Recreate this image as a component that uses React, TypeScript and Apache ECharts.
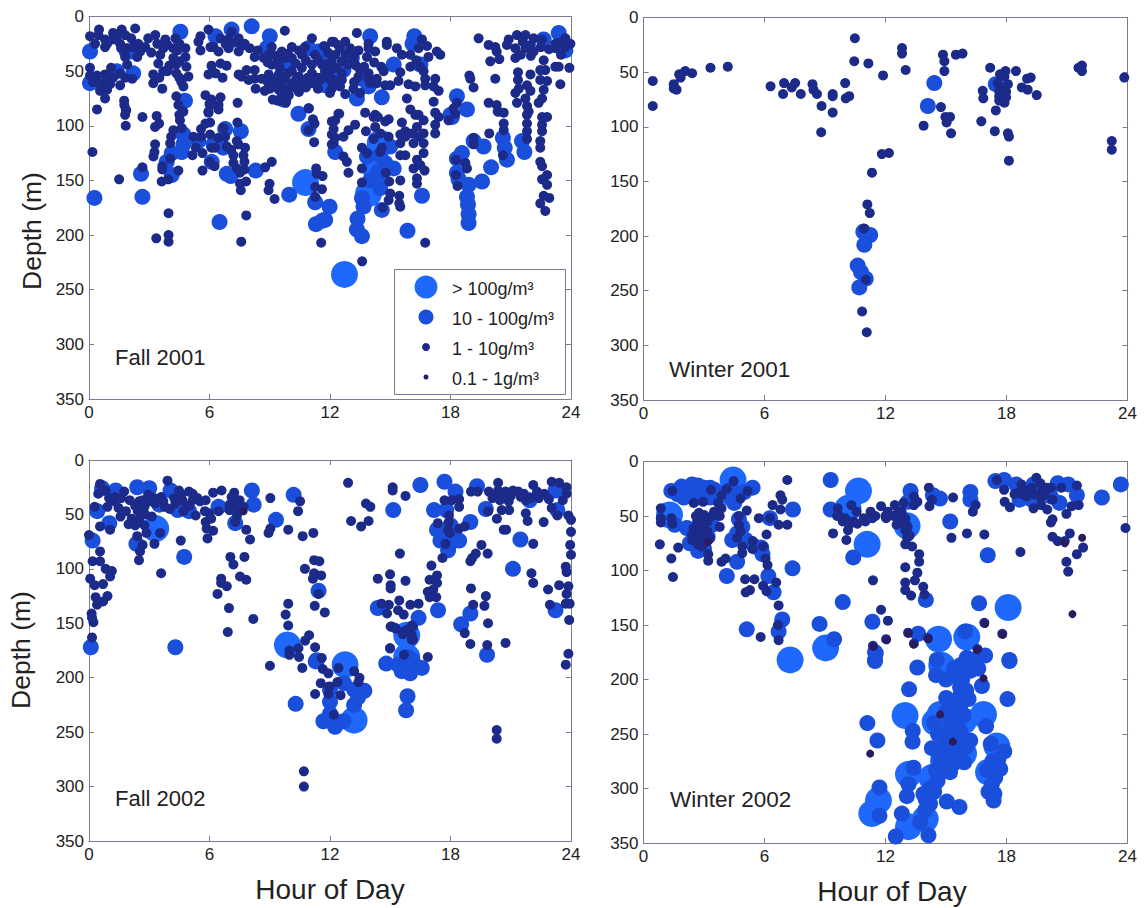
import React, { useEffect, useRef } from "react";
import * as echarts from "echarts";

type P = number[][];

const hourTicks = ["0", "6", "12", "18", "24"];
const panelNames = ["Fall 2001", "Winter 2001", "Fall 2002", "Winter 2002"];
const legendLabels = ["> 100g/m³", "10 - 100g/m³", "1 - 10g/m³", "0.1 - 1g/m³"];

const fall2001Large: P = [[10.78,152],[12.72,236],[13.92,162],[14.33,143],[14.5,116],[14.2,128]];
const fall2001Medium: P = [
[.05,32],[.05,61],[2.2,52],[1.38,50],[1.88,32],[4.78,77],[2.1,32],[9.93,43],[9,18],[7.1,12],[8.1,9],[6.3,18],[4.55,14],[8.85,29],[10.43,64],[9.68,76],[10.43,89],[11.43,32],[11.93,52],[10.93,29],[11.76,63],
[14,18],[16.2,18],[16.11,25],[15.17,44],[16.5,44],[23.39,15],[23.72,31],[22.64,21],[13.34,75],[14.58,74],[13.59,57],[13.92,64],[12.67,49],[13.09,38],[12.09,58],[11.76,38],[18.32,73],[18.82,85],[18,90],
[10.93,103],[7.56,105],[6.78,103],[4.7,108],[4.7,117],[4.62,124],[4.12,125],[3.87,133],[4.12,145],[2.59,144],[.27,166],[2.66,165],[6.11,133],[6.2,117],[6.69,120],[5.45,114],[6.86,144],[7.06,146],[8.3,141],[9.97,163],[11.26,170],[11.98,174],
[12.26,124],[11.76,186],[14.99,119],[13.84,128],[14.5,127],[14.75,134],[15.17,139],[14.42,142],[13.59,166],[13.67,174],[13.37,185],[13.34,195],[13.59,201],[14.5,157],[14.58,177],[16.58,164],[15.86,196],[18.07,92],
[18.32,130],[18.57,125],[19.15,114],[19.65,119],[18.32,143],[18.4,149],[18.9,154],[19.57,151],[20.02,138],[18.82,165],[18.87,172],[18.9,181],[18.9,189],[20.61,111],[20.7,120],[20.81,131],[21.56,114],[21.68,124],[6.5,188],[11.3,190],[11.6,187],[14,150],[14.3,150]];
const fall2001Small: P = [
[.5,12],[.05,18],[.47,17],[.3,25],[.8,21],[.8,28],[1.2,15],[1.63,12],[2.3,11],[1.2,21],[1.8,17],[2.1,20],[1.55,25],[1.9,29],[2.45,25],[2.55,32],[1.8,37],[2.4,37],[1.9,44],[3.3,17],[2.95,20],[3.8,21],[4.3,20],[3.4,25],[3.7,29],[4.4,31],[4.8,29],[3.55,35],[4.2,38],[4.8,37],[3.45,43],[4.35,44],[4.85,46],[3.2,53],[3.7,50],[4.35,52],[4.95,55],[4.6,60],[4.7,64],[3.2,61],[3.65,66],
[.05,47],[.05,54],[.4,54],[.8,53],[1.1,47],[1.55,52],[1.8,56],[2.15,57],[.2,60],[.65,61],[1.05,62],[1.55,63],[.55,68],[.9,67],[.8,75],[.4,85],[1.75,77],[1.85,86],[4.35,73],[4.45,81],[4.7,87],
[5.95,12],[5.55,18],[5.45,23],[5.55,31],[6.05,28],[6.55,20],[7.1,14],[6.95,21],[6.45,32],[6.95,29],[7.45,20],[7.75,25],[7.45,32],[8,29],[8.25,37],[8.7,38],[8.95,35],[6.1,45],[6.55,43],[6.85,45],[5.95,53],[6.3,52],[6.65,56],[5.8,72],[6.55,74],[6.1,76],[6.05,81],[6.45,81],[6.45,85],[5.95,87],[7.4,79],[7.45,53],[7.6,55],[7.85,49],[8.25,49],[7.95,58],[8.25,57],[8.6,57],[8.3,66],[8.75,68],[9.75,13],[9.15,76],
[9.1,28],[9.6,32],[10.1,28],[10.45,31],[9.75,38],[9.1,44],[9.5,47],[10.1,38],[10.6,35],[11.1,20],[10.75,28],[11.7,27],[11.25,35],[12.1,23],[11.1,44],[11.6,44],[10.6,47],[10.1,50],[9.45,53],[8.95,53],[9.75,57],[10.45,55],[11.1,52],[11.75,50],[9.25,63],[9.6,64],[10.1,61],[10.6,60],[11.1,61],[9.6,72],[9.75,67],[10.45,69],[10.95,84],[11.5,58],[12.1,60],[9.6,60],[9.95,72],[9.45,67],
[13.34,15],[12.18,23],[12.76,23],[12.5,29],[13,29],[13.42,31],[13.92,25],[13.92,29],[14.25,32],[13.84,37],[14.83,23],[14.83,26],[11.76,28],[12.26,35],[12.76,35],[12.09,41],[12.59,41],[11.76,44],[13.17,41],[13.5,49],[13.92,52],[14.55,46],[14.67,50],[12,50],[12.59,52],[13.42,55],[13.92,57],[14.33,57],[12.18,58],[12.59,58],[13.17,66],[14.75,63],[15,63],[12.09,66],[12.76,71],[14,61],[14.33,61],
[15.33,29],[15.58,35],[16,35],[16.58,21],[16.83,27],[16.41,29],[16,46],[17.32,32],[17.49,35],[15.5,51],[15.41,59],[16.5,46],[16.66,50],[16.74,57],[15.91,62],[16.25,64],[16.74,63],[17.24,57],[17.16,64],[17.41,68],[15.83,75],[17.16,78],
[19.4,20],[19.9,26],[20.23,28],[20.3,32],[19.98,41],[20.43,39],[18.94,54],[18.99,57],[20.23,57],[19.15,65],[20.81,26],[20.9,21],[21.31,17],[21.73,17],[22.14,20],[21.23,29],[21.73,29],[22.14,32],[22.56,21],[21.23,38],[22.64,40],[22.47,49],[22.72,49],[21.98,53],[21.36,51],[22.47,58],[22.81,59],[21.36,58],[21.81,63],[21.4,66],[21.98,68],[21.23,70],[21.73,75],[22.64,67],[22.56,75],[22.39,79],[21.31,79],[19.9,79],[20.3,81],[23.39,46],[23.22,46],[23.92,47],[23.47,62],[23.22,25],[23.22,29],[23.72,20],[23.97,25],[23.72,28],[21.81,82],[21.89,87],[20.4,87],[12.42,89],[13.75,88],[14.25,90],[16,85],[16.41,90],[17.24,88],[18.32,79],[18.16,84],
[1.76,81],[1.83,85],[1.8,90],[1.83,100],[2.66,92],[3.37,91],[3.49,98],[3.29,101],[4.5,90],[4.53,95],[4.2,104],[4.62,102],[4.09,110],[4.04,116],[5.2,110],[5.58,103],[5.58,110],[6.03,97],[5.8,98],[5.95,88],[6,80],[7.39,97],[6.03,108],[6.69,102],[6.44,111],[6.78,110],[6.1,120],[6.28,120],[5.32,120],[5.15,127],[5.65,125],[3.29,117],[3.26,124],[3.21,128],[.17,124],[2.66,138],[1.5,149],[4.04,130],[3.65,137],[3.65,140],[4.45,141],[3.95,149],[3.62,151],[6.03,133],[6.25,137],[5.65,141],[6.86,119],[7.08,122],[7.36,114],[7.44,117],[7.77,120],[7.19,127],[7.69,127],[7.19,134],[7.74,133],[7.36,139],[7.74,140],[7.52,143],[8.77,138],[9.1,133],[7.82,151],[7.52,153],[7.56,159],[8.99,153],[8.94,159],[9.24,167],
[10.93,84],[11.15,94],[11.23,98],[10.93,104],[11.21,115],[11.31,139],[11.34,144],[11.63,146],[11.26,156],[11.6,158],[11.26,165],[12.09,96],[12.09,108],[12.09,117],[3.35,203],[3.96,200],[3.96,206],[7.58,206],[11.56,207],[13.6,224],[16.74,207],[3.96,180],[7.83,182],
[12.46,89],[12.26,95],[12.18,103],[13.25,99],[12.92,104],[12.67,110],[12.18,116],[12.26,111],[14.17,92],[14.38,92],[13.79,105],[14.25,101],[14.5,107],[14.17,112],[14.92,94],[14.75,96],[15.58,97],[14.92,110],[14.58,120],[14.5,124],[13.59,120],[13.84,125],[12.67,128],[12.84,133],[12.92,143],[13.59,139],[13.59,152],[14.78,143],[14.95,151],[15,162],[14.92,168],[15.5,150],[15.45,164],[15.45,171],[15.5,174],[14.62,175],
[16.25,90],[16.66,95],[16.33,101],[15.75,105],[15.5,108],[16.08,107],[16.66,107],[16.41,110],[15.5,116],[16.16,116],[16.66,116],[15.75,110],[16.66,125],[15.5,127],[15.75,127],[16.33,131],[16.5,136],[16.71,141],[16.16,139],[16.33,148],[16.33,153],[17.41,92],[17.24,99],[17.24,107],
[17.9,95],[18.24,89],[18.27,131],[18.27,145],[18.35,155],[18.74,134],[18.82,139],[19.15,111],[19.15,117],[19.93,107],[20.35,87],[20.65,88],[20.65,98],[20.65,104],[20.61,127],
[21.81,90],[21.81,98],[21.81,105],[21.81,112],[22.56,92],[22.81,92],[22.56,99],[22.56,105],[22.47,114],[22.47,120],[22.47,133],[22.56,137],[22.81,145],[22.56,149],[22.81,154],[22.64,164],[22.92,166],[22.47,171],[22.72,178]];
const fall2001SmallDense: P = [
[6.2,28],[6.8,25],[7.2,24],[7.6,27],[8.4,31],[8.9,42],[9.3,36],[9.4,41],[9.9,34],[10.3,43],[10.8,40],[11.4,39],[11.9,33],[12.4,26],[13.2,35],[12.9,44],[12.3,47],[11.9,56],[11.4,56],[10.9,56],[10.3,58],[9.9,52],[9.3,57],[8.9,60],[9,66],[9.9,66],[10.3,65],[10.8,65],[11.4,66],[9.4,77],[9.8,79],[13.3,45],[13.7,46],[14.2,42],[13.2,60],[12.5,64],[12,70],[13.5,70],[16.3,40],[16.9,37],
[.9,25],[1.4,18],[1.6,29],[2.2,28],[2.8,28],[3.1,33],[3.9,26],[4.2,29],[4.5,25],[4.5,41],[4,45],[3.9,50],[4.5,56],[3.5,56],[1.2,56],[.4,60],[.9,58],[21.6,23],[22,26],[21.5,35],[22,36],[23.5,35],[23.4,24],[22.9,30],[22.5,28]];

const winter2001Medium: P = [[14.42,60],[14.1,81],[17.47,61],[10.9,196],[11.24,199],[10.95,208],[10.62,227],[10.79,233],[11.02,239],[10.7,247]];
const winter2001Small: P = [
[.46,58],[.46,81],[1.5,61],[1.5,65],[1.64,66],[1.77,52],[1.84,55],[2.07,49],[2.41,51],[3.32,46],[4.18,45],[6.3,63],[6.97,60],[6.92,70],[7.52,60],[7.35,64],[7.8,70],[8.38,61],[8.43,66],[8.6,70],[8.81,105],[8.83,81],[9.38,70],[9.38,72],[9.38,87],[10,60],[10.2,72],[10.03,74],[10.48,19],[10.45,40],[11.15,42],[11.88,53],[12.82,28],[12.82,33],[13,48],
[11.82,125],[12.17,124],[11.33,142],[11.1,171],[11.22,179],[10.93,193],[11.02,240],[10.84,269],[11.07,288],
[14.85,34],[14.92,40],[14.92,49],[14.75,82],[15.49,34],[15.82,33],[13.89,99],[14.97,91],[15.2,91],[15.03,96],[15.25,106],
[17.19,46],[16.82,67],[16.85,74],[16.75,95],[17.47,85],[17.42,104],[18.07,106],[18.12,109],[18.12,131],[17.95,49],[18.47,49],[17.68,52],[17.9,54],[17.56,60],[18.07,61],[17.81,64],[17.64,68],[17.98,68],[17.64,72],[17.98,73],[17.64,76],[17.9,78],
[18.76,64],[19.05,66],[19.02,56],[19.2,55],[19.5,71],[21.57,46],[21.74,44],[21.74,49],[23.22,113],[23.22,121],[23.84,55]];

const fall2002Large: P = [[3.32,63],[9.88,170],[12.75,188],[13.2,239],[15.82,161],[15.82,181]];
const fall2002Medium: P = [
[.18,74],[.41,47],[1.01,58],[.09,172],[4.3,172],[4.74,89],[2.36,77],[1.33,28],[.65,26],[2.4,25],[3,26],[4.06,28],[3.5,41],[4.42,46],[4.98,47],[6.45,43],[8.11,28],[8.2,41],[7.28,58],[9.31,55],[10.19,32],[15.15,46],[16.5,23],[11.43,120],[14.8,187],[14.38,136],[16.41,145],[17.38,138],[18.99,141],[18.53,151],[19.82,179],[23.23,138],[21.11,100],[21.48,73],[19.76,45],[19.32,24],[17.7,20],[18.25,29],[17.18,46],[17.79,46],[17.33,64],[17.88,83],[17.79,72],[18.43,74],[18.99,57],[21.94,37],[23.23,28],[23.32,46],[11.34,184],
[11.29,185],[12,211],[13.2,211],[13.71,212],[13.2,225],[10.29,224],[12,233],[12.67,240],[12.25,245],[11.67,240],[15.86,181],[15.57,194],[15.99,196],[16.57,191],[15.86,217],[15.79,230],[16.16,187],
[18,60],[18,67],[17.5,74],[18,76],[12,222],[12.7,205],[13.4,218],[16.1,184],[15.4,188]];
const fall2002Small: P = [
[.55,22],[.46,31],[.83,28],[.28,43],[.92,43],[.55,61],[1.05,64],[0,69],[.55,84],[.18,93],[.55,93],[.83,100],[1.14,102],[1.05,107],[.06,109],[.28,115],[.7,114],[.33,126],[.92,125],[.4,133],[.7,130],[.13,141],[.22,149],[.15,145],[.15,163],
[1.29,34],[1.75,29],[1.29,38],[1.47,44],[2.03,37],[1.57,52],[1.84,47],[1.97,59],[2.12,54],[2.43,47],[2.67,37],[2.95,32],[3.23,35],[2.76,43],[2.49,55],[3.13,52],[2.76,60],[2.4,70],[2.86,67],[2.67,78],[3.26,77],[3.54,67],[2.54,84],[2.49,92],
[3.91,19],[3.59,34],[3.78,43],[4.02,45],[4.24,35],[4.48,28],[4.65,37],[4.7,47],[4.98,29],[5.16,31],[5.16,37],[5.31,51],[5.53,38],[5.81,37],[5.77,47],[5.99,49],[6.08,54],[5.81,57],[5.86,63],[6.18,65],[5.9,72],[6.18,30],[6.6,28],[6.45,47],
[7.23,30],[7.28,37],[7,41],[7,46],[7.7,43],[7.37,51],[7.28,57],[7.83,64],[8.02,73],[9.03,35],[4.57,74],[3.59,104],[7.04,89],[7.74,89],[7.19,96],[6.58,109],[6.58,113],[6.86,116],[6.4,123],[7.52,107],[7.83,110],[6.97,136],[8.18,146],[6.91,158],
[9.03,63],[8.94,67],[9.92,64],[10.64,70],[11.17,67],[10.51,38],[10.41,47],[11.21,92],[11.47,93],[10.75,100],[11.21,104],[11.15,109],[11.56,106],[11.43,123],[11.24,134],[11.74,140],[9.92,132],[9.79,142],[9.92,152],
[10.96,161],[10.76,166],[10.43,173],[9.98,175],[9.98,179],[10.46,181],[11.26,172],[9.01,189],[10.62,191],[11.59,182],[11.64,192],[11.92,196],[12.42,191],[11.54,205],[11.97,208],[12.37,204],[11.26,215],[11.92,215],[12.53,216],[13.2,194],[13.47,200],[13.42,204],[12.2,234],
[15.08,153],[15.28,155],[16.07,152],[15.82,156],[15.62,160],[16.07,161],[16.07,165],[14.99,173],[15.69,179],[16.87,181],
[12.9,21],[15.12,25],[15.12,28],[15.76,33],[13.79,40],[14.01,43],[13.92,56],[13.05,56],[13.55,61],[15.48,86],[14.38,109],[14.99,105],[15.02,115],[15.76,111],[15.02,118],[14.56,132],[14.93,133],[14.84,141],[15.45,129],[15.39,138],[15.67,142],[16,133],[16.41,132],[15.02,153],[15.23,154],[15.67,158],[16.13,153],[16.13,165],[14.99,173],
[17.05,97],[16.96,110],[17.33,106],[17.33,113],[17.14,119],[16.87,121],[17.29,126],[16.96,126],[17.6,90],[17.7,37],[18.06,37],[18.43,36],[18.43,43],[17.37,58],[17.92,51],[17.92,57],[17.88,64],[17.97,67],[18.43,63],[18.71,61],[17.75,77],
[19.02,29],[19.35,29],[19.87,47],[20.31,54],[19.54,78],[19.26,86],[19.85,86],[18.99,93],[19.08,90],[19.02,118],[19.76,125],[19.13,133],[19.69,134],[19.87,150],[18.71,159],[18.99,169],[19.83,170],[20.74,168],
[19.91,29],[20.37,21],[20.37,28],[20.09,35],[20.46,37],[20.55,46],[20.92,46],[20.74,29],[21.11,28],[21.38,29],[21.66,31],[21.75,37],[22.12,23],[22.31,29],[22.67,31],[21.75,49],[21.84,56],[22.64,57],[20.65,64],[20.77,64],[22.12,77],[22.03,104],[22.12,113],[22.86,119],[22.95,133],
[23.04,20],[23.41,21],[23.78,25],[23.04,44],[23.32,51],[23.78,31],[23.59,37],[23.87,51],[24,55],[24,66],[23.96,78],[24,87],[23.74,98],[23.78,103],[23.41,115],[23.87,116],[23.78,123],[23.74,132],[23.93,132],[23.91,147],[23.87,178],[23.74,188],
[20.3,248],[20.3,256],[10.7,286],[10.7,300],
[1,35],[1.6,35],[2.3,42],[2.5,38],[3,38],[3.3,40],[3.7,38],[4.3,40],[4.9,42],[5.4,35],[5,42],[4.6,32],[2.8,50],[2.3,60],[7.3,45],[7.1,34],[7.5,37],[20.6,33],[21,33],[21.5,34],[22,35],[22.9,36],[22.4,35],[20.9,38],[20.3,32]];
const fall2002Tiny: P = [[7.7,47]];

const winter2002Large: P = [
[4.44,17],[1.29,49],[4.38,29],[10.66,27],[11.09,76],[10.14,43],[13.07,59],[7.27,182],[9.03,171],[18.08,134],
[14.63,163],[16.03,161],[14.79,187],[12.97,233],[14.71,232],[14.46,239],[16.86,232],[15.87,238],[15.87,268],[14.88,274],[17.52,261],[17.11,285],[13.14,287],[14.3,290],[11.65,311],[11.32,323],[13.14,335],[13.97,328]];
const winter2002Medium: P = [
[1.38,27],[1.89,23],[2.41,21],[3,24],[3.52,26],[5.41,24],[4.64,29],[2.41,31],[3,31],[1.55,58],[2.15,61],[2.49,70],[2.71,82],[3.18,69],[4.64,92],[4.13,105],[4.64,66],[5.07,72],[4.73,53],[5.5,78],[5.84,79],[6.19,105],[6.45,120],[7.39,98],[7.41,44],[6.27,52],[9.28,17],[9.28,44],[15.21,55],[17.07,86],[16.21,28],[16.21,35],[13.24,27],[13.12,37],[14.7,34],[14.35,31],[14,127],[10.4,88],[9.88,129],[6.88,145],[6.7,156],[5.12,154],[8.73,149],[11.35,147],[11.52,176],[11.48,182],[9.45,163],[13.62,158],[13.58,189],[16.64,130],[18.14,182],[15.95,156],
[17.45,18],[17.88,17],[18.48,21],[18.65,35],[19.34,21],[19.34,29],[19.25,35],[20.54,20],[21.06,21],[21.49,31],[20.63,38],[20.2,32],[22.73,33],[23.67,21],
[11.48,175],[11.48,183],[14.54,182],[14.51,196],[15.7,187],[16.53,181],[16.94,178],[16.03,180],[15.54,198],[16.78,206],[15.7,207],[16.12,218],[15.01,217],[13.17,209],[18.05,218],[18.15,183],[13.35,247],[13.34,257],[14.41,240],[11.6,256],[11.1,240],[15.21,238],[15.54,235],[15.87,233],[15.12,250],[15.7,247],[16.2,256],[16.99,243],[14.3,263],[14.88,262],[15.54,259],[14.71,273],[15.37,271],[15.7,264],[15.37,277],
[17.22,259],[17.89,266],[17.6,273],[17.69,282],[17.03,283],[17.44,290],[17.27,296],[17.11,303],[17.36,311],[13.39,281],[13.14,296],[13.06,307],[14.58,293],[13.88,305],[14.41,303],[14.21,314],[13.97,320],[15.04,312],[15.67,317],[11.7,299],[11.7,325],[12.81,323],[13.72,331],[14.13,343],[12.51,344],
[1.7,30],[2,27],[2.2,25],[2.7,22],[3.3,24],[3.7,30],[2.7,33],[2,33],[3.3,33],[4,30],[4.3,26],[5,28],[4.5,38],[2.3,75],[2.8,74],[3,80],[3.4,58],[4.9,60],[4.4,72],[5.9,85],
[15,200],[15.4,190],[15.8,200],[16,210],[15.7,215],[15.3,225],[15,230],[15.7,225],[15.2,245],[15,255],[15.5,250],[15.8,255],[14.6,250],[15.4,262],[16,262],[15.9,276],[15,283],[14.8,282],[15.2,285],[14.5,283],[16.2,192],[16.6,190],[14.2,300],[14,310],[14.4,298],[17.3,275],[17.5,283],[17.4,305]];
const winter2002Small: P = [
[7.13,17],[.86,43],[.86,52],[.86,56],[1.38,52],[1.43,27],[1.43,57],[.81,76],[1.38,89],[1.72,79],[1.46,106],[2.49,38],[2.96,37],[3.35,26],[3.87,31],[4.47,18],[4.13,25],[3.7,38],[3.87,43],[3.78,50],[3.78,60],[4.81,34],[5.16,27],[5.12,45],
[2.75,47],[3,49],[2.66,55],[3.18,55],[2.49,61],[3,61],[2.66,66],[2.41,67],[3.18,64],[2.41,72],[2.84,72],[3.21,85],[3.21,91],[3.87,92],[4.07,89],
[4.73,50],[4.73,58],[4.81,64],[4.64,70],[4.9,78],[4.9,84],[5.42,80],[5.42,73],[5.93,78],[6.05,89],[6.15,95],[5.04,108],[5.5,108],[5.07,120],[5.28,118],[5.93,114],[6.1,119],[6.58,111],[6.7,132],[6.67,150],[6.7,164],[5.81,161],
[6.4,40],[6.79,31],[6.88,35],[6.79,44],[5.72,52],[6.27,52],[6.7,58],[7.13,58],[6.1,67],
[9.63,43],[9.71,50],[9.4,66],[10.31,40],[10.57,46],[9.88,55],[10.4,55],[10.14,63],[10.06,72],[10.92,52],[11.26,46],[11.35,52],[11.78,41],[12.12,46],[12.03,52],[12.46,40],[12.64,46],[12.64,52],[12.55,58],[12.98,52],[13.41,32],[13.58,37],[13.41,40],[12.89,38],[12.98,63],[13.07,70],[12.98,76],[13.32,78],[13.67,85],[13.67,92],[12.98,97],[13.58,102],[13.46,109],[12.98,111],[12.98,118],[13.27,123],[13.87,115],[13.93,122],[11.38,109],
[11.78,136],[12.12,146],[12.03,163],[11.38,169],[13.12,157],[13.41,167],[14.1,162],[17.79,158],[16.9,148],[16.56,172],
[14.15,24],[14.3,35],[14.18,41],[15.35,33],[15.27,70],[16.04,66],[16.9,67],[16.33,46],[16.47,40],[18.69,83],
[17.53,17],[17.88,26],[17.91,37],[18.17,42],[18.74,21],[18.57,29],[18.91,27],[19.25,24],[19.48,15],[19.68,20],[19.77,27],[19.34,43],[19.72,40],[20.28,35],[20.02,44],[20.28,53],[20.2,56],[20.2,24],[20.72,24],[21.49,22],[21.23,41],[21.58,40],[20.97,48],[20.28,69],[20.54,73],[20.89,73],[21.14,66],[21.8,79],[21.49,85],[20.97,92],[21.06,101],[23.9,61],
[2.6,50],[2.9,55],[2.8,62],[2.6,70],[3.4,50],[3.5,46],[3.3,70],[2.9,78],[3,67],[2.7,76],[9.6,50],[10,52],[10.2,58],[10.6,57],[11,55],[11.5,50],[12,50],[12.4,50],[12.8,46],[13,57],[13.2,68],[13.1,60],[19,27],[19.4,30],[19.7,33],[19,32],[18.8,30],[18.4,30],[19.9,30],[20,24]];
const winter2002Tiny: P = [[3.2,74],[21.27,140],[21.75,70],[20.89,75],[11.24,268],[16.86,199],[14.71,232],[15.34,257],[11.4,170],[12.06,164],[14.13,163],[13.14,158],[13.39,168],[16.53,173],[16.94,149],[17.82,159]];

const panelData = [
  [fall2001Large, fall2001Medium, [...fall2001Small, ...fall2001SmallDense], [] as P],
  [[] as P, winter2001Medium, winter2001Small, [] as P],
  [fall2002Large, fall2002Medium, fall2002Small, fall2002Tiny],
  [winter2002Large, winter2002Medium, winter2002Small, winter2002Tiny],
];

const classColors = ["#1e69fb", "#1a4fdc", "#1c2a8a", "#2a1a5e"];
const classSizes = [27, 16, 10, 8];
const legendSizes = [23, 15, 8, 5];
const grids = [
  { left: 89, top: 16.5, width: 482, height: 382.5 },
  { left: 643.5, top: 17.5, width: 484, height: 382.5 },
  { left: 89, top: 460, width: 482, height: 381 },
  { left: 643.5, top: 461.5, width: 484, height: 381.5 },
];
const frame = "#7b7b92";
const ink = "#222222";
const sans = "'Liberation Sans', Arial, sans-serif";
const hourValues = hourTicks.map(Number);

function buildOption() {
  const xAxis: any[] = [];
  const yAxis: any[] = [];
  const series: any[] = [];
  grids.forEach((_, g) => {
    const line = { show: true, onZero: false, lineStyle: { color: frame, width: 1 } };
    const tick = { show: true, inside: true, length: 5, lineStyle: { color: frame, width: 1 } };
    const base = { gridIndex: g, type: "value", splitLine: { show: false }, axisLine: line, axisTick: tick };
    const xCommon = { ...base, min: hourValues[0], max: hourValues[4], interval: hourValues[1] };
    const yCommon = { ...base, min: 0, max: 350, interval: 50, inverse: true };
    const label = { show: true, color: ink, fontSize: 17, fontFamily: sans, margin: 5 };
    xAxis.push({ ...xCommon, position: "bottom", axisLabel: label });
    xAxis.push({ ...xCommon, position: "top", axisLabel: { show: false } });
    yAxis.push({ ...yCommon, position: "left", axisLabel: label });
    yAxis.push({ ...yCommon, position: "right", axisLabel: { show: false } });
    panelData[g].forEach((points, c) => {
      series.push({
        type: "scatter",
        name: panelNames[g] + " " + legendLabels[c],
        xAxisIndex: g * 2,
        yAxisIndex: g * 2,
        data: points,
        symbol: "circle",
        symbolSize: classSizes[c],
        itemStyle: { color: classColors[c], opacity: 1 },
        silent: true,
        z: 2 + c,
        clip: false,
      });
    });
  });

  const text = (x: number, y: number, t: string, fontSize: number, extra: any = {}) => ({
    type: "text",
    x,
    y,
    z: 20,
    silent: true,
    style: { text: t, fontSize, fontFamily: sans, fill: ink, textVerticalAlign: "middle", ...extra },
  });
  const graphic: any[] = [
    { type: "rect", z: 15, silent: true, shape: { x: 394.5, y: 269.5, width: 171, height: 125 }, style: { fill: "#fff", stroke: frame, lineWidth: 1 } },
    ...legendLabels.flatMap((t, i) => {
      const cy = [287, 317, 347, 377][i];
      return [
        { type: "circle", z: 18, silent: true, shape: { cx: 426, cy, r: legendSizes[i] / 2 }, style: { fill: classColors[i] } },
        text(452, cy + 2, t, 18),
      ];
    }),
    text(115, 357, panelNames[0], 22),
    text(669, 369, panelNames[1], 22.5),
    text(115, 798, panelNames[2], 22),
    text(670, 799, panelNames[3], 22.5),
    text(330, 889, "Hour of Day", 28, { textAlign: "center" }),
    text(892, 891, "Hour of Day", 28, { textAlign: "center" }),
    { ...text(0, 0, "Depth (m)", 26.5, { textAlign: "center" }), x: 32, y: 231, rotation: Math.PI / 2 },
    { ...text(0, 0, "Depth (m)", 26.5, { textAlign: "center" }), x: 21, y: 650, rotation: Math.PI / 2 },
  ];

  return { animation: false, backgroundColor: "#fff", grid: grids, xAxis, yAxis, series, graphic };
}

export default function App() {
  const ref = useRef<HTMLDivElement>(null);
  useEffect(() => {
    const chart = echarts.init(ref.current!, undefined, { renderer: "svg" });
    chart.setOption(buildOption());
    return () => chart.dispose();
  }, []);
  return <div ref={ref} style={{ position: "absolute", left: 0, top: 0, width: 1144, height: 908 }} />;
}
